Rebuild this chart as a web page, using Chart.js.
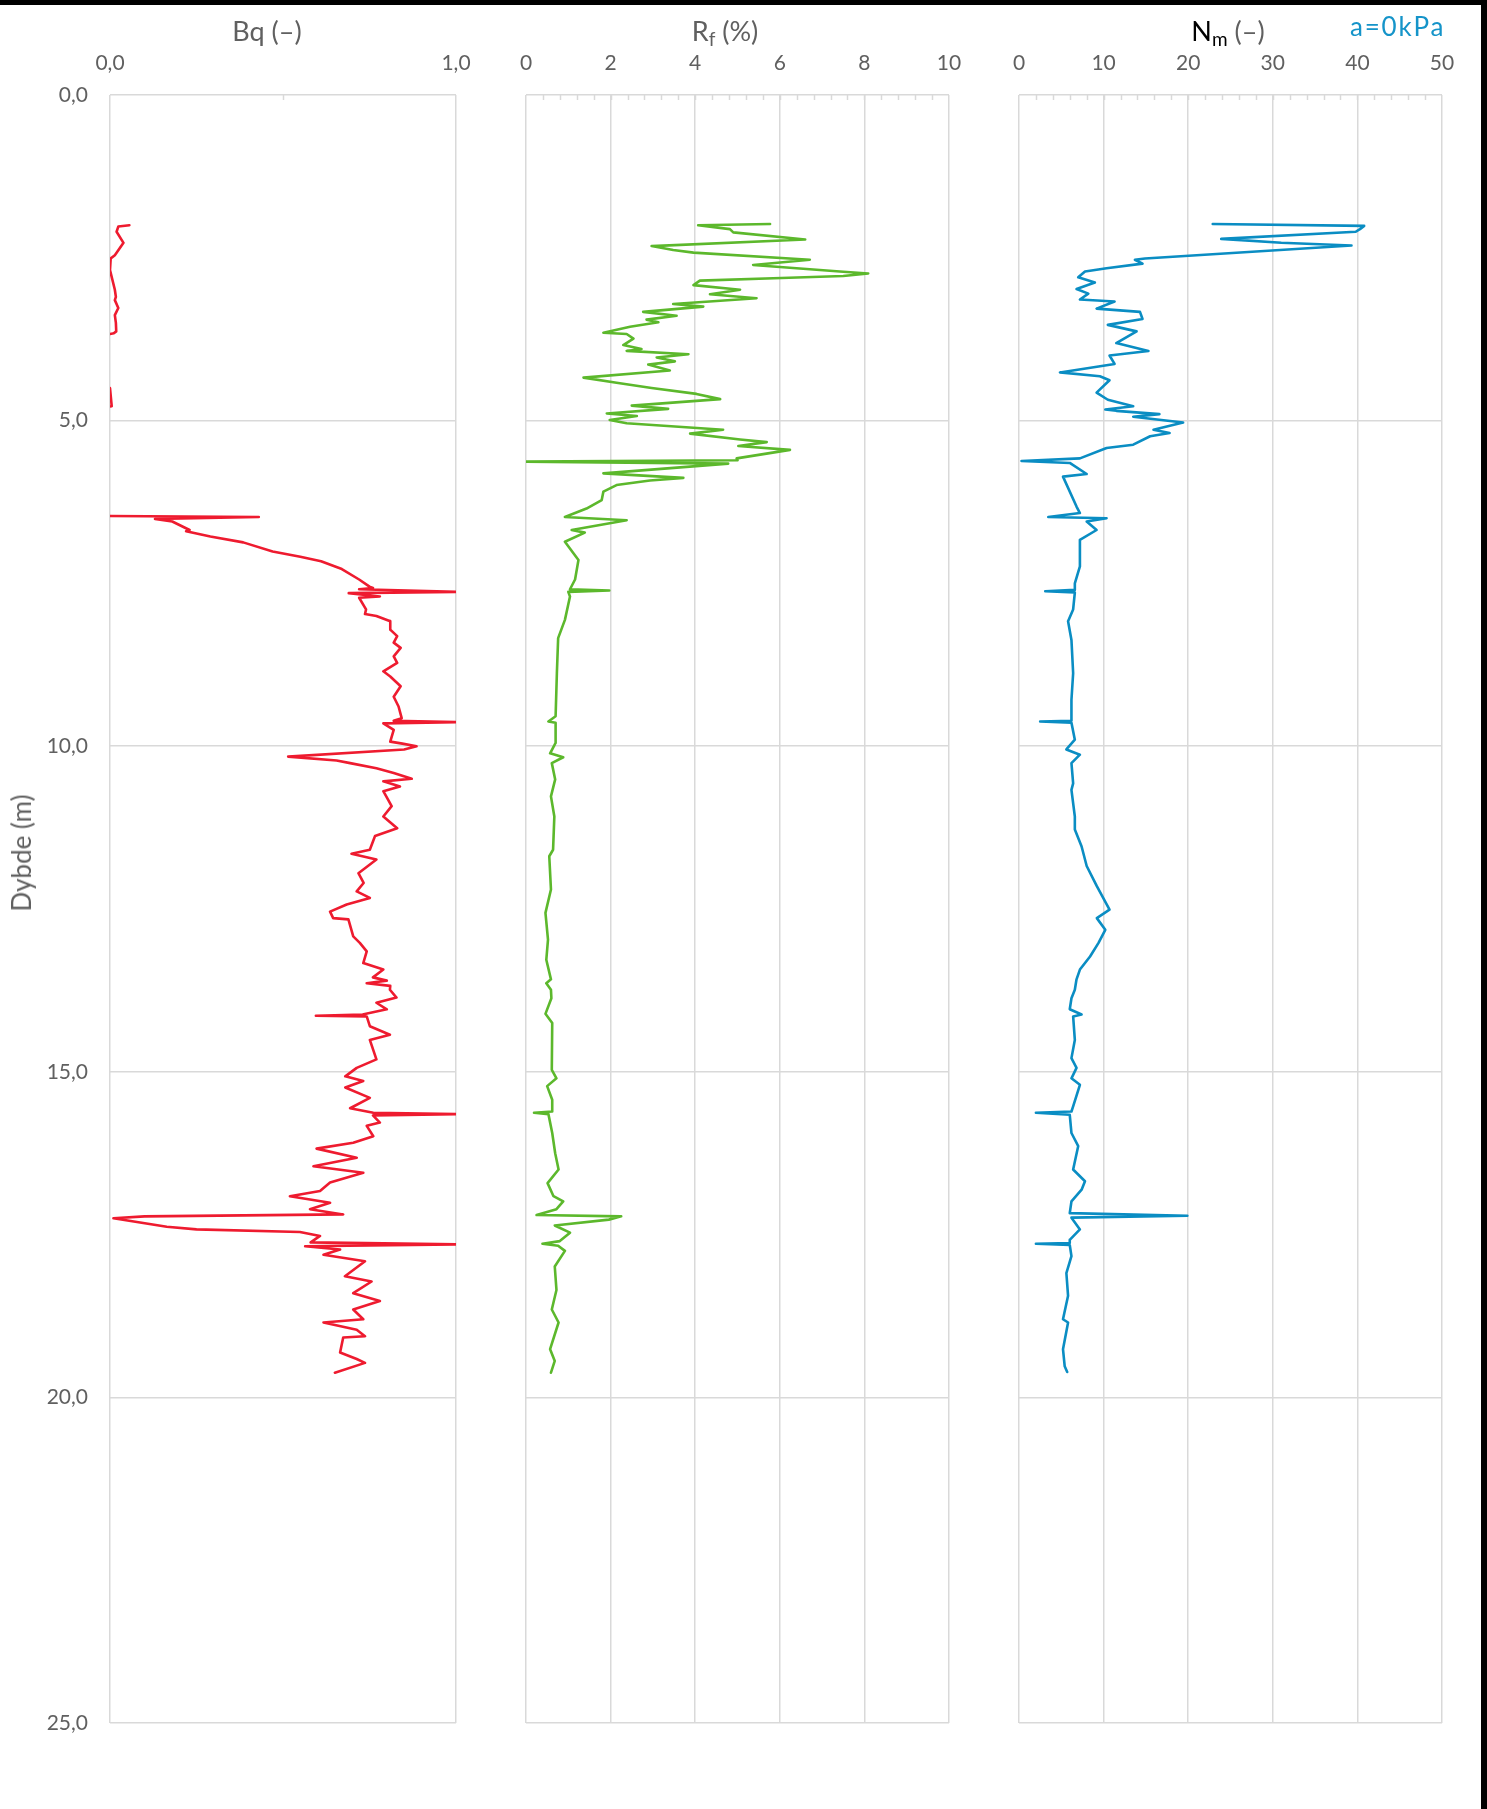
<!DOCTYPE html>
<html>
<head>
<meta charset="utf-8">
<script src="https://cdn.jsdelivr.net/npm/chart.js@4.4.1/dist/chart.umd.min.js"></script>
<style>
  html, body { margin: 0; padding: 0; background: #fff; }
  body { width: 1487px; height: 1809px; position: relative; overflow: hidden; font-family: Lato, "Open Sans", sans-serif; }
  canvas { position: absolute; left: 0; top: 0; }
  .frame-top { position: absolute; left: 0; top: 0; width: 1487px; height: 5px; background: #000; }
  .frame-right { position: absolute; left: 1481px; top: 0; width: 6px; height: 1809px; background: #000; }
  .ttl { position: absolute; white-space: nowrap; font-size: 27px; line-height: 32px; color: #606060; transform: translateX(-50%); }
  .ttl sub { font-size: 19px; vertical-align: -5px; line-height: 0; }
  .blk { color: #000; }
  .tag { position: absolute; white-space: nowrap; font-size: 26px; line-height: 30px; color: #1594c9; letter-spacing: 1.8px; }
  .ylab { position: absolute; white-space: nowrap; font-size: 26px; line-height: 30px; color: #606060; transform: translate(-50%, -50%) rotate(-90deg); }
</style>
</head>
<body>
<div class="frame-top"></div>
<div class="frame-right"></div>

<canvas id="bq" width="1487" height="1809"></canvas>
<canvas id="rf" width="1487" height="1809"></canvas>
<canvas id="nm" width="1487" height="1809"></canvas>

<div class="ttl" style="left:267px; top:15px;">Bq (–)</div>
<div class="ttl" style="left:725px; top:15px;">R<sub>f</sub> (%)</div>
<div class="ttl" style="left:1228px; top:15px;"><span class="blk">N<sub>m</sub></span> (–)</div>
<div class="tag" style="left:1350px; top:11px;">a=0kPa</div>
<div class="ylab" style="left:21px; top:853px;">Dybde (m)</div>

<script>
// Depth axis (m)
const depthMin = 0;
const depthMax = 25;
const depthStep = 5;

// Pore pressure ratio Bq (–) against depth
const bqDepth = [
  2.00, 2.02, 2.10, 2.27, 2.46, 2.51, 2.69, 2.99, 3.10, 3.15, 3.27, 3.38, 3.50, 3.63, 3.66, 3.67,
  3.70, 4.10, 4.45, 4.50, 4.78, 4.82, 5.50, 6.20, 6.46, 6.48, 6.51, 6.55, 6.68, 6.70, 6.78, 6.87,
  7.01, 7.09, 7.16, 7.28, 7.44, 7.55, 7.57, 7.59, 7.63, 7.65, 7.70, 7.72, 7.90, 7.97, 8.00, 8.08,
  8.21, 8.31, 8.41, 8.49, 8.62, 8.72, 8.85, 8.93, 9.08, 9.24, 9.39, 9.57, 9.61, 9.63, 9.65, 9.75,
  9.93, 9.96, 10.00, 10.05, 10.16, 10.22, 10.26, 10.34, 10.41, 10.50, 10.54, 10.62, 10.69, 10.92,
  11.08, 11.26, 11.38, 11.59, 11.65, 11.74, 11.95, 12.10, 12.23, 12.33, 12.43, 12.54, 12.64, 12.66,
  12.92, 13.02, 13.15, 13.33, 13.43, 13.55, 13.60, 13.64, 13.68, 13.74, 13.86, 13.94, 14.04, 14.12,
  14.14, 14.15, 14.30, 14.43, 14.51, 14.81, 14.94, 15.07, 15.14, 15.24, 15.40, 15.56, 15.63, 15.65,
  15.67, 15.78, 15.83, 15.99, 16.09, 16.18, 16.32, 16.45, 16.55, 16.70, 16.83, 16.91, 17.01, 17.11,
  17.19, 17.22, 17.25, 17.38, 17.42, 17.46, 17.52, 17.62, 17.65, 17.68, 17.73, 17.81, 17.91, 18.14,
  18.22, 18.40, 18.52, 18.65, 18.80, 18.85, 18.96, 19.06, 19.08, 19.31, 19.41, 19.47, 19.62
];
const bqValue = [
  0.056, 0.024, 0.019, 0.039, 0.014, 0.002, 0.000, 0.014, 0.017, 0.014, 0.024, 0.014, 0.017, 0.018, 0.011, 0.000,
  -0.06, -0.08, -0.04, 0.000, 0.005, -0.05, -0.10, -0.08, -0.15, 0.43, 0.13, 0.18, 0.23, 0.22, 0.29, 0.385,
  0.47, 0.55, 0.61, 0.67, 0.72, 0.75, 0.76, 0.72, 1.00, 0.69, 0.78, 0.72, 0.74, 0.737, 0.77, 0.81,
  0.81, 0.83, 0.82, 0.84, 0.82, 0.83, 0.79, 0.81, 0.84, 0.82, 0.834, 0.843, 0.82, 1.00, 0.79, 0.82,
  0.81, 0.845, 0.886, 0.85, 0.515, 0.655, 0.694, 0.77, 0.82, 0.872, 0.79, 0.838, 0.79, 0.814,
  0.79, 0.83, 0.766, 0.751, 0.698, 0.77, 0.718, 0.733, 0.713, 0.751, 0.684, 0.636, 0.645, 0.689,
  0.703, 0.722, 0.742, 0.732, 0.79, 0.76, 0.80, 0.742, 0.81, 0.809, 0.828, 0.77, 0.80, 0.73,
  0.595, 0.742, 0.751, 0.809, 0.751, 0.77, 0.713, 0.68, 0.732, 0.68, 0.751, 0.694, 0.761, 1.00,
  0.76, 0.78, 0.742, 0.761, 0.703, 0.597, 0.713, 0.588, 0.732, 0.636, 0.607, 0.52, 0.636, 0.578,
  0.674, 0.10, 0.01, 0.164, 0.25, 0.549, 0.607, 0.58, 1.00, 0.564, 0.665, 0.617, 0.737, 0.679,
  0.756, 0.703, 0.78, 0.703, 0.732, 0.617, 0.713, 0.737, 0.674, 0.665, 0.713, 0.737, 0.65
];

// Friction ratio Rf (%) against depth
const rfDepth = [
  1.98, 2.00, 2.06, 2.11, 2.22, 2.32, 2.38, 2.42, 2.53, 2.61, 2.71, 2.74, 2.78, 2.81, 2.85, 2.92,
  2.99, 3.06, 3.12, 3.21, 3.25, 3.33, 3.39, 3.45, 3.49, 3.56, 3.65, 3.67, 3.74, 3.84, 3.90, 3.93,
  3.98, 4.03, 4.09, 4.14, 4.23, 4.34, 4.42, 4.50, 4.59, 4.67, 4.77, 4.82, 4.89, 4.93, 4.99, 5.04,
  5.14, 5.20, 5.29, 5.33, 5.39, 5.45, 5.58, 5.61, 5.63, 5.66, 5.81, 5.88, 5.92, 5.99, 6.09, 6.22,
  6.35, 6.48, 6.53, 6.68, 6.72, 6.86, 7.14, 7.44, 7.59, 7.61, 7.63, 7.70, 8.06, 8.34, 8.88, 9.54,
  9.62, 9.64, 9.95, 10.11, 10.17, 10.26, 10.51, 10.77, 11.08, 11.59, 11.69, 12.20, 12.56, 12.97,
  13.28, 13.58, 13.64, 13.74, 13.87, 14.11, 14.25, 14.97, 15.10, 15.22, 15.43, 15.61, 15.63, 15.65,
  15.94, 16.25, 16.50, 16.71, 16.91, 16.99, 17.11, 17.20, 17.22, 17.27, 17.36, 17.47, 17.60, 17.64,
  17.67, 17.75, 17.99, 18.35, 18.65, 18.85, 19.26, 19.44, 19.62
];
const rfValue = [
  5.77, 4.07, 4.82, 4.90, 6.60, 2.97, 3.48, 3.96, 6.71, 5.37, 7.42, 8.09, 7.50, 6.04, 4.11, 3.96,
  5.06, 4.35, 5.45, 3.48, 4.19, 2.77, 3.56, 2.85, 3.13, 2.46, 1.83, 2.38, 2.54, 2.30, 2.73, 2.38,
  3.84, 3.09, 3.52, 2.89, 3.40, 1.36, 2.14, 2.97, 4.03, 4.59, 2.50, 3.36, 1.91, 2.62, 1.98, 2.38,
  4.66, 3.88, 5.06, 5.69, 5.02, 6.24, 4.98, 5.00, 0.00, 4.78, 1.83, 3.72, 2.93, 2.14, 1.83, 1.79,
  1.43, 0.92, 2.38, 1.08, 1.39, 0.92, 1.24, 1.16, 1.04, 1.97, 1.00, 1.04, 0.92, 0.76, 0.73, 0.70,
  0.53, 0.70, 0.70, 0.57, 0.88, 0.61, 0.69, 0.59, 0.67, 0.64, 0.55, 0.59, 0.46, 0.52,
  0.48, 0.59, 0.48, 0.59, 0.60, 0.46, 0.62, 0.61, 0.72, 0.50, 0.62, 0.62, 0.19, 0.53,
  0.62, 0.69, 0.77, 0.51, 0.65, 0.88, 0.72, 0.25, 2.25, 1.96, 0.68, 1.04, 0.80, 0.39,
  0.76, 0.92, 0.68, 0.72, 0.61, 0.77, 0.57, 0.68, 0.59
];

// Cone factor Nm (–) against depth
const nmDepth = [
  1.98, 2.01, 2.06, 2.10, 2.21, 2.27, 2.31, 2.51, 2.53, 2.59, 2.66, 2.71, 2.80, 2.88, 2.98, 3.05,
  3.14, 3.17, 3.28, 3.33, 3.44, 3.53, 3.63, 3.81, 3.93, 4.00, 4.13, 4.26, 4.32, 4.38, 4.57, 4.68,
  4.78, 4.83, 4.85, 4.90, 4.94, 5.03, 5.14, 5.19, 5.24, 5.37, 5.42, 5.58, 5.62, 5.65, 5.82, 5.86,
  6.32, 6.42, 6.48, 6.50, 6.55, 6.68, 6.83, 7.24, 7.50, 7.60, 7.62, 7.64, 7.90, 8.08, 8.37, 8.88,
  9.29, 9.61, 9.62, 9.64, 9.90, 10.05, 10.13, 10.26, 10.57, 10.67, 11.08, 11.28, 11.54, 11.84,
  12.15, 12.51, 12.64, 12.82, 13.02, 13.23, 13.43, 13.58, 13.74, 13.87, 14.04, 14.12, 14.15, 14.51,
  14.79, 14.94, 15.10, 15.20, 15.53, 15.61, 15.63, 15.66, 15.94, 16.14, 16.50, 16.68, 16.81, 16.99,
  17.17, 17.21, 17.24, 17.42, 17.58, 17.63, 17.64, 17.66, 17.83, 18.09, 18.44, 18.80, 18.85, 19.26,
  19.52, 19.61
];
const nmValue = [
  22.9, 40.8, 40.3, 39.8, 23.9, 31.0, 39.3, 14.9, 13.7, 14.6, 10.35, 7.8, 7.0, 8.97, 6.8, 8.2,
  7.2, 11.3, 9.17, 14.3, 14.6, 10.5, 13.9, 11.5, 15.3, 10.7, 11.3, 4.84, 9.56, 10.7, 9.17, 10.5,
  13.5, 10.2, 11.5, 16.6, 13.5, 19.4, 15.9, 17.8, 15.5, 13.5, 10.35, 7.2, 0.3, 6.0, 8.0, 5.2,
  6.8, 7.2, 3.46, 10.35, 8.0, 9.17, 7.2, 7.2, 6.6, 6.6, 3.1, 6.6, 6.4, 5.8, 6.2, 6.4,
  6.2, 6.2, 2.5, 6.2, 6.6, 5.6, 7.2, 6.2, 6.4, 6.2, 6.6, 6.6, 7.4, 8.0,
  9.2, 10.7, 9.2, 10.2, 9.4, 8.4, 7.2, 6.8, 6.6, 6.2, 6.0, 7.4, 6.4, 6.6,
  6.2, 6.8, 6.2, 7.2, 6.4, 6.2, 2.0, 6.0, 6.2, 7.0, 6.4, 7.8, 7.4, 6.2,
  6.0, 19.9, 6.2, 7.2, 6.0, 6.0, 2.0, 6.0, 6.2, 5.6, 5.8, 5.2, 5.8, 5.2,
  5.4, 5.7
];

// Top axis ticks of each track
const bqTicks = { min: 0, max: 1, step: 1, minor: 0.5 };
const rfTicks = { min: 0, max: 10, step: 2, minor: 0.4 };
const nmTicks = { min: 0, max: 50, step: 10, minor: 2 };

const PAGE_W = 1487, PAGE_H = 1809;
const TEXT = '#606060';
const GRID = '#d9d9d9';
const FONT = 'Lato, "Open Sans", sans-serif';

// Short minor tick marks hanging from the top edge of the plot area
const minorTicks = {
  id: 'minorTicks',
  beforeDatasetsDraw(chart, args, opts) {
    const { ctx, chartArea } = chart;
    const x = chart.scales.x;
    ctx.save();
    ctx.strokeStyle = GRID;
    ctx.lineWidth = 1.5;
    const n = Math.round((x.max - x.min) / opts.step);
    for (let i = 1; i < n; i++) {
      const px = Math.round(x.getPixelForValue(x.min + i * opts.step)) + 0.5;
      ctx.beginPath();
      ctx.moveTo(px, chartArea.top);
      ctx.lineTo(px, chartArea.top + 5);
      ctx.stroke();
    }
    ctx.restore();
  }
};

function toPoints(depths, values) {
  return depths.map((d, i) => ({ x: values[i], y: d }));
}

function track(id, depths, values, color, ticks, area, yLabels, fmt) {
  const yWidth = yLabels ? area.left : 0;
  return new Chart(document.getElementById(id), {
    type: 'scatter',
    data: {
      datasets: [{
        data: toPoints(depths, values),
        showLine: true,
        borderColor: color,
        backgroundColor: color,
        borderWidth: 2.6,
        pointRadius: 0,
        pointHoverRadius: 0,
        tension: 0,
        borderJoinStyle: 'round',
        borderCapStyle: 'round'
      }]
    },
    options: {
      responsive: false,
      animation: false,
      events: [],
      layout: {
        padding: { left: area.left - yWidth, right: PAGE_W - area.right, top: 0, bottom: PAGE_H - area.bottom }
      },
      plugins: {
        legend: { display: false },
        tooltip: { enabled: false },
        minorTicks: { step: ticks.minor }
      },
      scales: {
        x: {
          type: 'linear',
          position: 'top',
          min: ticks.min,
          max: ticks.max,
          ticks: {
            stepSize: ticks.step,
            autoSkip: false,
            maxRotation: 0,
            padding: 19,
            color: TEXT,
            font: { family: FONT, size: 21 },
            callback: fmt
          },
          grid: { color: GRID, lineWidth: 1.5, drawTicks: false },
          border: { display: false },
          afterFit: s => { s.height = area.top; }
        },
        y: {
          type: 'linear',
          reverse: true,
          min: depthMin,
          max: depthMax,
          ticks: {
            display: yLabels,
            stepSize: depthStep,
            padding: 22,
            color: TEXT,
            font: { family: FONT, size: 21 },
            callback: v => v.toFixed(1).replace('.', ',')
          },
          grid: { color: GRID, lineWidth: 1.5, drawTicks: false },
          border: { display: false },
          afterFit: s => { s.width = yWidth; }
        }
      }
    },
    plugins: [minorTicks]
  });
}

const plotTop = 95, plotBottom = 1723;

track('bq', bqDepth, bqValue, '#ee1b2f', bqTicks,
  { left: 110, right: 456, top: plotTop, bottom: plotBottom }, true,
  v => v.toFixed(1).replace('.', ','));

track('rf', rfDepth, rfValue, '#5cb82c', rfTicks,
  { left: 526, right: 949, top: plotTop, bottom: plotBottom }, false,
  v => String(v));

track('nm', nmDepth, nmValue, '#0a8dc3', nmTicks,
  { left: 1019, right: 1442, top: plotTop, bottom: plotBottom }, false,
  v => String(v));
</script>
</body>
</html>
